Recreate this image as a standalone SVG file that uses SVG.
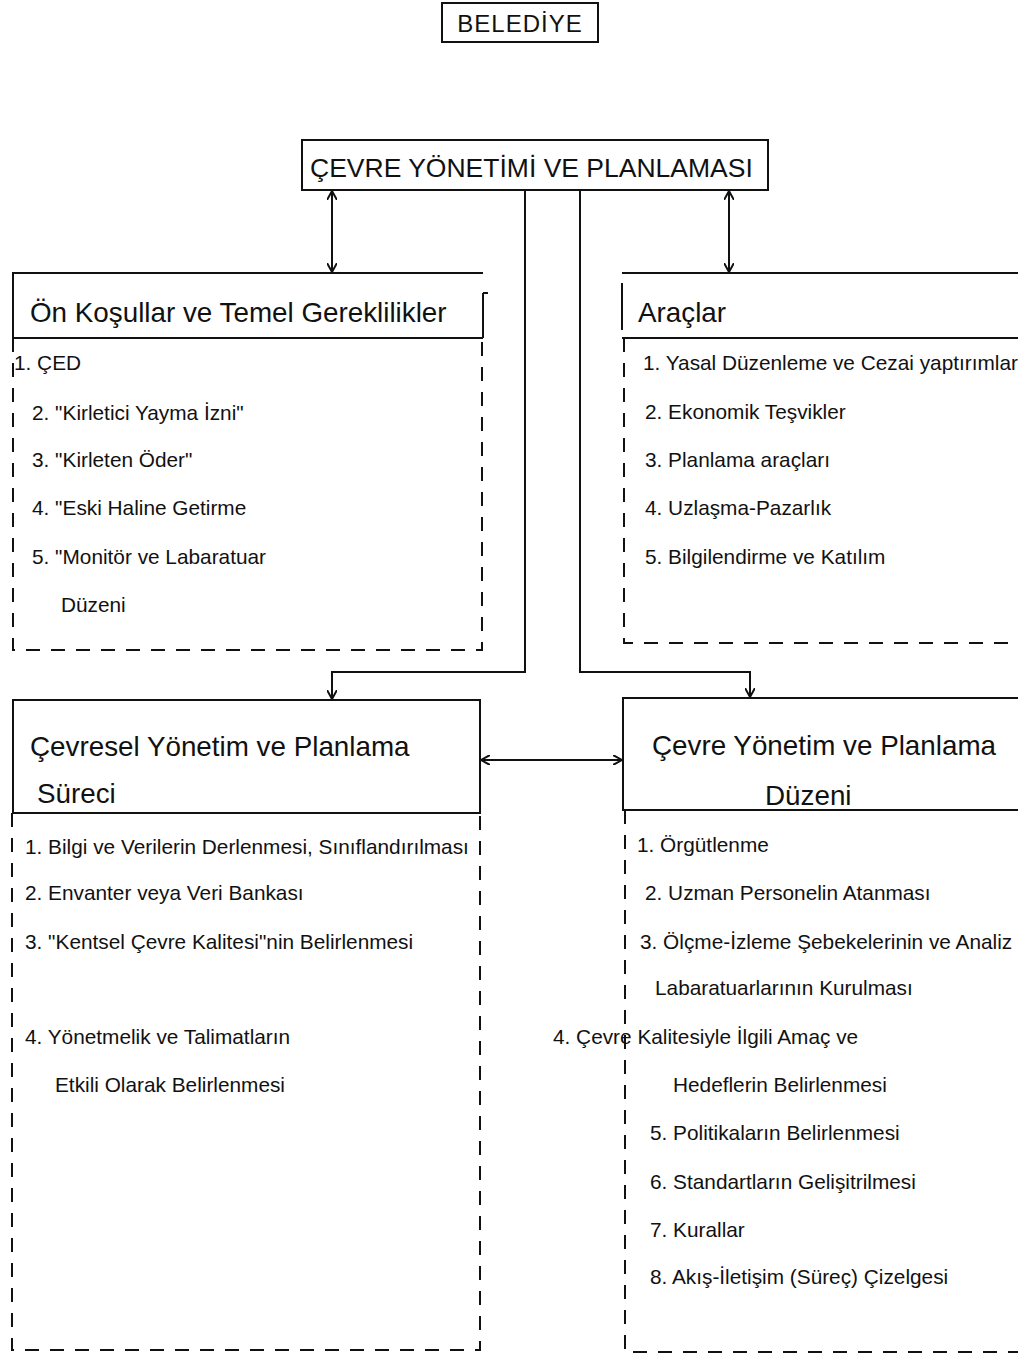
<svg xmlns="http://www.w3.org/2000/svg" width="1018" height="1359" viewBox="0 0 1018 1359">
<style>
text{font-family:"Liberation Sans",Arial,sans-serif;fill:#111}
.t{font-size:27.8px}
.i{font-size:20.8px}
.s{stroke:#111;stroke-width:2;fill:none}
.d{stroke:#111;stroke-width:2;fill:none;stroke-dasharray:14 11}
.c{stroke:#111;stroke-width:2;fill:none}
</style>
<defs>
<marker id="ah" viewBox="0 0 10 10" refX="9" refY="5" markerWidth="10" markerHeight="10" markerUnits="userSpaceOnUse" orient="auto-start-reverse">
<path d="M0,0 L9,5 L0,10" fill="none" stroke="#111" stroke-width="2"/>
</marker>
</defs>
<rect width="1018" height="1359" fill="#fff"/>

<g id="belediye">
<rect class="s" x="442" y="3" width="156" height="39"/>
<text x="520" y="32" font-size="24" text-anchor="middle" letter-spacing="1">BELEDİYE</text>
</g>

<g id="cevre-yonetimi">
<rect class="s" x="302" y="140" width="466" height="50"/>
<text x="310" y="177" font-size="26.5">ÇEVRE YÖNETİMİ VE PLANLAMASI</text>
</g>

<g id="on-kosullar">
<path class="s" d="M483,273 L13,273 L13,338 L483,338 M483,293 L483,338 M483,293 L488,293"/>
<path class="d" d="M13,338 L13,650 L482,650 L482,338"/>
<text class="t" x="30" y="322">Ön Koşullar ve Temel Gereklilikler</text>
<text class="i" x="14" y="370">1. ÇED</text>
<text class="i" x="32" y="420">2. "Kirletici Yayma İzni"</text>
<text class="i" x="32" y="467">3. "Kirleten Öder"</text>
<text class="i" x="32" y="515">4. "Eski Haline Getirme</text>
<text class="i" x="32" y="564">5. "Monitör ve Labaratuar</text>
<text class="i" x="61" y="612">Düzeni</text>
</g>

<g id="araclar">
<path class="s" d="M1018,273 L622,273 M622,283 L622,330 M622,338 L1018,338"/>
<path class="d" d="M624,338 L624,643 L1018,643"/>
<text class="t" x="638" y="322">Araçlar</text>
<text class="i" x="643" y="370">1. Yasal Düzenleme ve Cezai yaptırımlar</text>
<text class="i" x="645" y="419">2. Ekonomik Teşvikler</text>
<text class="i" x="645" y="467">3. Planlama araçları</text>
<text class="i" x="645" y="515">4. Uzlaşma-Pazarlık</text>
<text class="i" x="645" y="564">5. Bilgilendirme ve Katılım</text>
</g>

<g id="cevresel-surec">
<rect class="s" x="13" y="700" width="467" height="113"/>
<path class="d" d="M12,813 L12,1350 L480,1350 L480,813"/>
<text class="t" x="30" y="756">Çevresel Yönetim ve Planlama</text>
<text class="t" x="37" y="803">Süreci</text>
<text class="i" x="25" y="854">1. Bilgi ve Verilerin Derlenmesi, Sınıflandırılması</text>
<text class="i" x="25" y="900">2. Envanter veya Veri Bankası</text>
<text class="i" x="25" y="949">3. "Kentsel Çevre Kalitesi"nin Belirlenmesi</text>
<text class="i" x="25" y="1044">4. Yönetmelik ve Talimatların</text>
<text class="i" x="55" y="1092">Etkili Olarak Belirlenmesi</text>
</g>

<g id="cevre-duzeni">
<path class="s" d="M1018,698 L623,698 L623,810 L1018,810"/>
<path class="d" d="M625,810 L625,1352 L1018,1352"/>
<text class="t" x="652" y="755">Çevre Yönetim ve Planlama</text>
<text class="t" x="765" y="805">Düzeni</text>
<text class="i" x="637" y="852">1. Örgütlenme</text>
<text class="i" x="645" y="900">2. Uzman Personelin Atanması</text>
<text class="i" x="640" y="949">3. Ölçme-İzleme Şebekelerinin ve Analiz</text>
<text class="i" x="655" y="995">Labaratuarlarının Kurulması</text>
<text class="i" x="553" y="1044">4. Çevre Kalitesiyle İlgili Amaç ve</text>
<text class="i" x="673" y="1092">Hedeflerin Belirlenmesi</text>
<text class="i" x="650" y="1140">5. Politikaların Belirlenmesi</text>
<text class="i" x="650" y="1189">6. Standartların Gelişitrilmesi</text>
<text class="i" x="650" y="1237">7. Kurallar</text>
<text class="i" x="650" y="1284">8. Akış-İletişim (Süreç) Çizelgesi</text>
</g>

<g id="connectors">
<line class="c" x1="332" y1="191" x2="332" y2="272" marker-start="url(#ah)" marker-end="url(#ah)"/>
<line class="c" x1="729" y1="191" x2="729" y2="272" marker-start="url(#ah)" marker-end="url(#ah)"/>
<polyline class="c" points="525,190 525,672 332,672 332,699" marker-end="url(#ah)"/>
<polyline class="c" points="580,190 580,672 750,672 750,697" marker-end="url(#ah)"/>
<line class="c" x1="481" y1="760" x2="622" y2="760" marker-start="url(#ah)" marker-end="url(#ah)"/>
</g>
</svg>
